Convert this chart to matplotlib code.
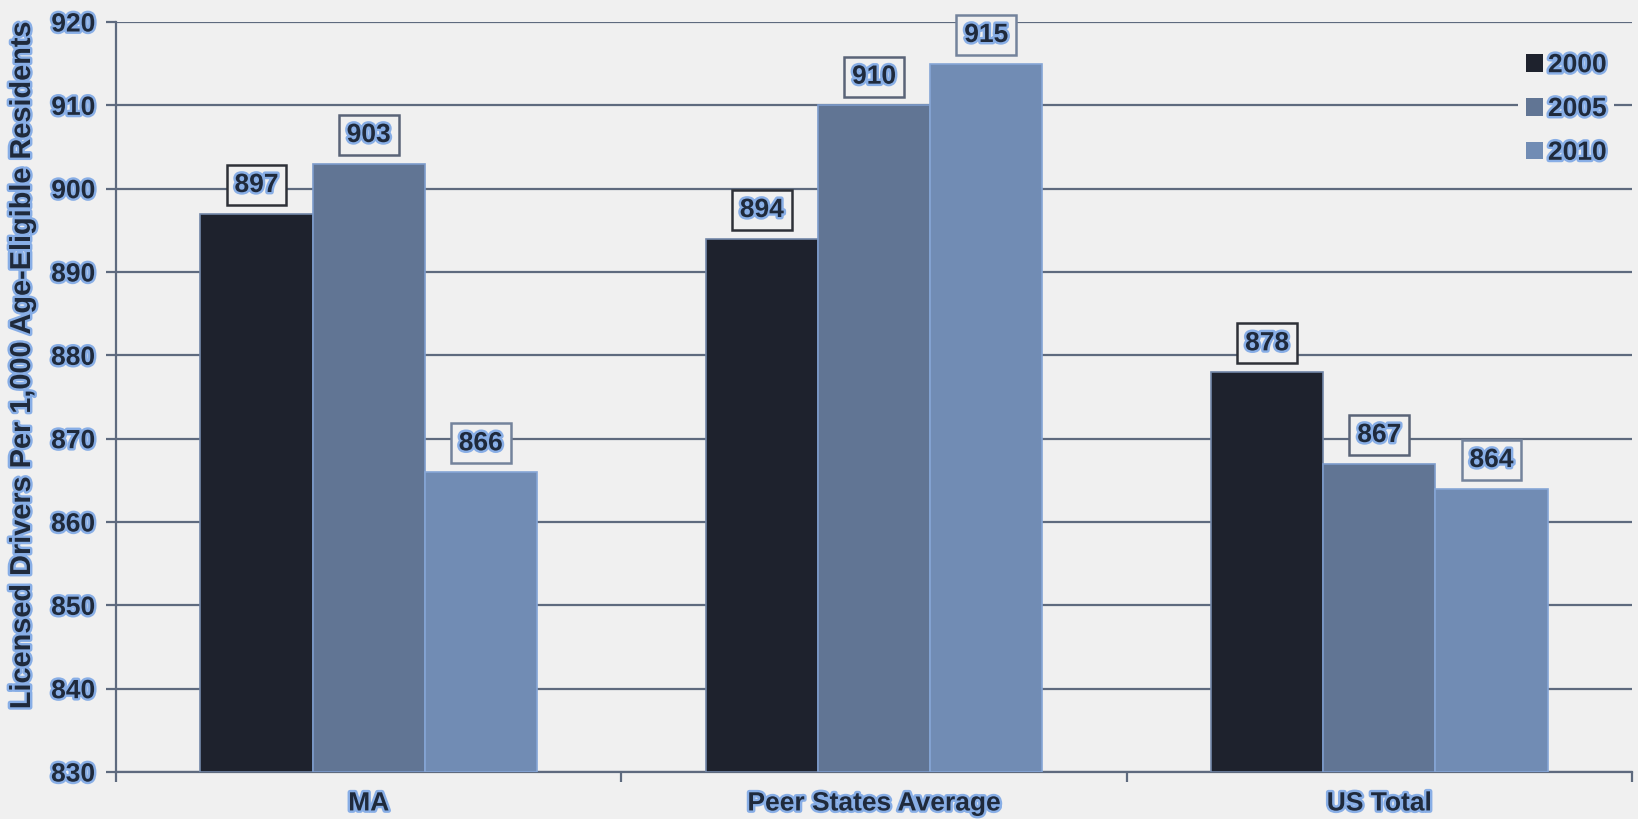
import matplotlib.pyplot as plt
import matplotlib.patheffects as pe
import numpy as np

plt.rcParams['font.family'] = ['Liberation Sans', 'DejaVu Sans']
plt.rcParams['font.weight'] = 'bold'

categories = ['MA', 'Peer States Average', 'US Total']
years = ['2000', '2005', '2010']
drivers_2000 = [897, 894, 878]
drivers_2005 = [903, 910, 867]
drivers_2010 = [866, 915, 864]
y_ticks = [830, 840, 850, 860, 870, 880, 890, 900, 910, 920]

series = [drivers_2000, drivers_2005, drivers_2010]
bar_colors = ['#1e222d', '#617594', '#718cb4']
bar_edges = ['#7387a8', '#7d9ccc', '#86a6d6']
box_edges = ['#2e3138', '#5a6478', '#74839c']

bg = '#f0f0f0'
ink = '#1f2a3c'
line_col = '#5e6a7e'
fs = 19
glow = [pe.withStroke(linewidth=3.5, foreground='#88aee6')]

fig = plt.figure(figsize=(16.38, 8.19), dpi=100, facecolor=bg)
ax = fig.add_axes([116 / 1638, 1 - 772 / 819, (1632 - 116) / 1638, (772 - 22) / 819])
ax.set_facecolor(bg)

x = np.arange(len(categories))
width = 0.222

for i, vals in enumerate(series):
    pos = x + (i - 1) * width
    ax.bar(pos, np.array(vals) - 830, width, bottom=830, color=bar_colors[i],
           edgecolor=bar_edges[i], linewidth=1.2, label=years[i], zorder=3)
    for xp, v in zip(pos, vals):
        ax.annotate(str(v), (xp, v), xytext=(0, 12), textcoords='offset points',
                    ha='center', va='bottom', fontsize=fs, color=ink, zorder=5,
                    path_effects=glow,
                    bbox=dict(boxstyle='square,pad=0.3', facecolor=bg,
                              edgecolor=box_edges[i], linewidth=1.8))

ax.set_ylim(830, 920)
ax.set_xlim(-0.5, 2.5)
ax.set_yticks(y_ticks)
ax.yaxis.grid(True, color=line_col, linewidth=1.6)
ax.set_axisbelow(True)

# ticks sit between groups, names sit under the group centres
ax.set_xticks([-0.5, 0.5, 1.5, 2.5])
ax.set_xticklabels([])
ax.set_xticks(x, minor=True)
ax.set_xticklabels(categories, minor=True)
ax.tick_params(axis='x', which='minor', length=0, pad=14)
ax.tick_params(axis='x', which='major', length=7, width=1.6, color=line_col)
ax.tick_params(axis='y', length=7, width=1.6, color=line_col, pad=8)

for lab in ax.get_yticklabels() + ax.get_xticklabels(minor=True):
    lab.set_fontsize(fs)
    lab.set_color(ink)
    lab.set_fontweight('bold')
    lab.set_path_effects(glow)

for s in ['top', 'right']:
    ax.spines[s].set_visible(False)
for s in ['left', 'bottom']:
    ax.spines[s].set_color(line_col)
    ax.spines[s].set_linewidth(1.6)

ax.set_ylabel('Licensed Drivers Per 1,000 Age-Eligible Residents', fontsize=20.8,
              color=ink, fontweight='bold', path_effects=glow)
ax.yaxis.set_label_coords((36 - 116) / 1516, 0.541)

leg = ax.legend(loc='center', bbox_to_anchor=(1566 / 1638, 1 - 109 / 819),
                bbox_transform=fig.transFigure, frameon=True, facecolor=bg,
                edgecolor='none', framealpha=1, fontsize=fs, handlelength=0.65,
                handleheight=0.65, handletextpad=0.2, labelspacing=0.75,
                borderpad=0.3)
for t in leg.get_texts():
    t.set_color(ink)
    t.set_path_effects(glow)
for h in leg.legend_handles:
    h.set_edgecolor('none')

fig.savefig('out.png', dpi=100, facecolor=bg)
